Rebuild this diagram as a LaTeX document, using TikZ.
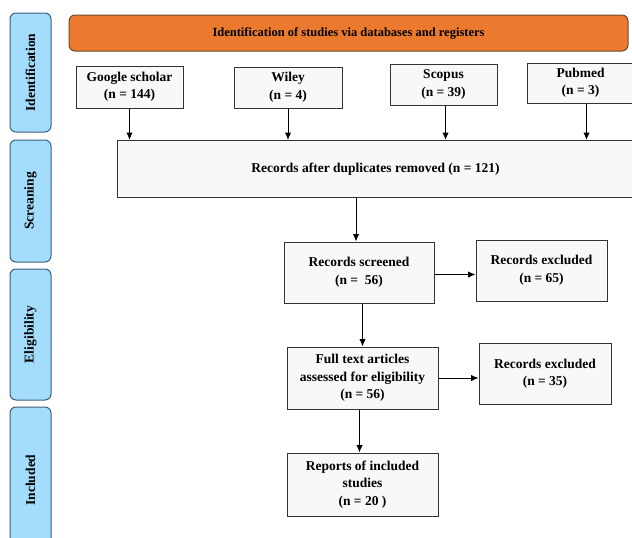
\documentclass[tikz,border=0pt]{standalone}
\usepackage{fontspec}
\setmainfont{Liberation Serif}
\usetikzlibrary{arrows.meta}
\definecolor{phasefill}{HTML}{A3DDFB}
\definecolor{phaseline}{HTML}{3F5F7F}
\definecolor{headfill}{HTML}{EC7A2E}
\definecolor{headline}{HTML}{6B4A30}
\definecolor{boxfill}{HTML}{F8F8F8}
\begin{document}
\begin{tikzpicture}[x=1pt, y=-1pt, font=\fontsize{13.5}{17.5}\selectfont\bfseries,
    phase/.style={draw=phaseline, fill=phasefill, rounded corners=6pt, line width=1pt, rotate=90, inner sep=0pt},
    box/.style={draw=black!80, fill=boxfill, rectangle, line width=1pt, align=center, inner sep=2pt},
    arr/.style={-{Latex[length=7.5pt,width=6.5pt]}, line width=1pt}]
        \useasboundingbox (0,0) rectangle (632,538);
        % phases on the left
        \node [phase, minimum width=119pt, minimum height=41pt] (ident) at (30.5,72.5) {Identification};
        \node [phase, minimum width=122pt, minimum height=41pt] (screen) at (30.5,201) {Screaning};
        \node [phase, minimum width=131pt, minimum height=41pt] (elig) at (30.5,334.5) {Eligibility};
        \node [phase, minimum width=146pt, minimum height=41pt] (incl) at (30.5,480) {Included};

        \node [draw=headline, fill=headfill, rounded corners=6pt, line width=1pt, minimum width=559pt, minimum height=36pt, font=\fontsize{12.5}{15}\selectfont\bfseries] (head) at (348.5,33) {Identification of studies via databases and registers};

        % sources
        \node [box, minimum width=107pt, minimum height=42pt] (google) at (129.5,87) {Google scholar\\(n = 144)};
        \node [box, minimum width=108pt, minimum height=41pt] (wiley) at (288,87.5) {Wiley\\(n = 4)};
        \node [box, minimum width=107pt, minimum height=41pt] (scopus) at (443.5,84.5) {Scopus\\(n = 39)};
        \node [box, minimum width=107pt, minimum height=40pt] (pubmed) at (580.5,83) {Pubmed\\(n = 3)};

        \node [box, minimum width=517pt, minimum height=57pt] (dup) at (375.5,169) {Records after duplicates removed (n = 121)};

        \node [box, minimum width=150pt, minimum height=61pt] (screened) at (359,272.5) {Records screened\\(n =\ \ 56)};
        \node [box, minimum width=131pt, minimum height=61pt] (excl1) at (541.5,270.5) {Records excluded\\(n = 65)};
        \node [box, minimum width=151pt, minimum height=62pt] (fulltext) at (362.5,378) {Full text articles\\assessed for eligibility\\(n = 56)};
        \node [box, minimum width=132pt, minimum height=61pt] (excl2) at (545,373.5) {Records excluded\\(n = 35)};
        \node [box, minimum width=151pt, minimum height=63pt] (reports) at (362.5,484.5) {Reports of included\\studies\\(n = 20 )};

        \draw [arr] (google.south) -- (google.south |- dup.north);
        \draw [arr] (wiley.south) -- (wiley.south |- dup.north);
        \draw [arr] ([xshift=2pt]scopus.south) -- ([xshift=2pt]scopus.south |- dup.north);
        \draw [arr] ([xshift=6pt]pubmed.south) -- ([xshift=6pt]pubmed.south |- dup.north);
        \draw [arr] ([xshift=-3pt]screened.north |- dup.south) -- ([xshift=-3pt]screened.north);
        \draw [arr] ([yshift=-2pt]screened.east) -- ([yshift=-2pt]screened.east -| excl1.west);
        \draw [arr] (screened.south -| fulltext.north) -- (fulltext.north);
        \draw [arr] (fulltext.east) -- (fulltext.east -| excl2.west);
        \draw [arr] ([xshift=-3pt]fulltext.south) -- ([xshift=-3pt]reports.north);
\end{tikzpicture}
\end{document}
